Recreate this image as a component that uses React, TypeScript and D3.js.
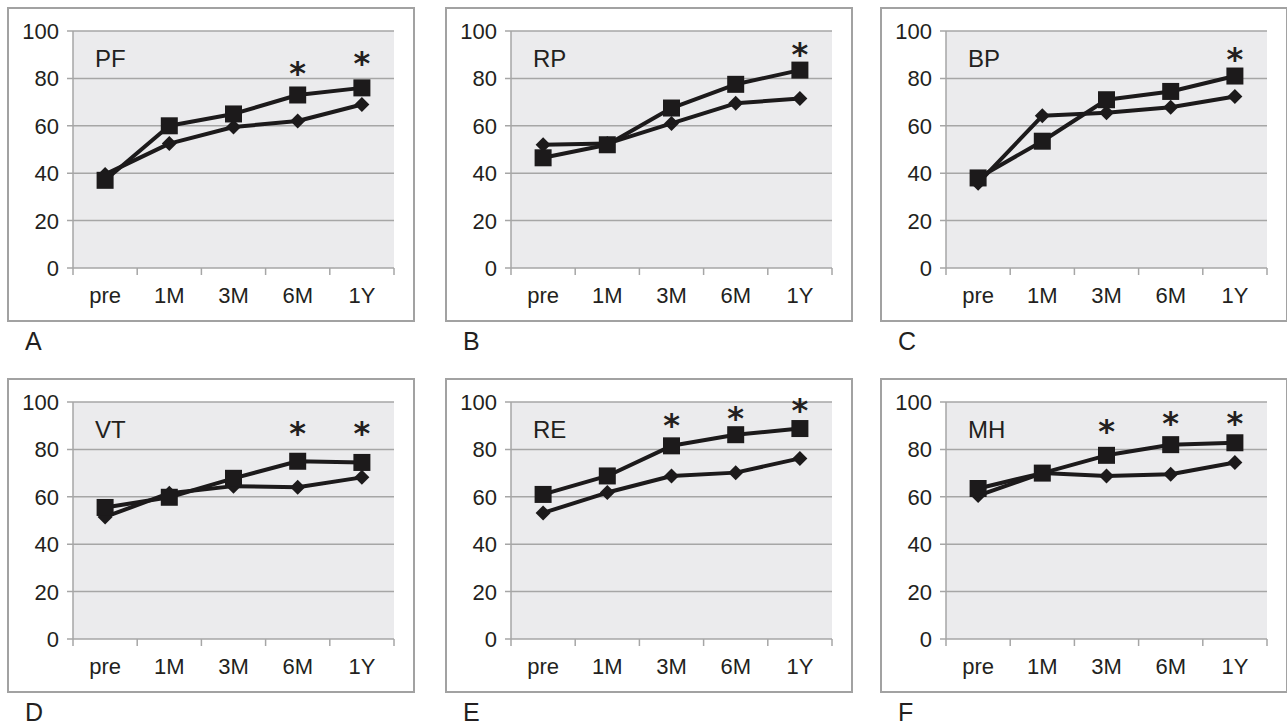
import React from "react";
import * as d3 from "d3";

const categories = ["pre", "1M", "3M", "6M", "1Y"];
const yTicks = [0, 20, 40, 60, 80, 100];
const panelNames = ["PF", "RP", "BP", "VT", "RE", "MH"];
const panelLetters = ["A", "B", "C", "D", "E", "F"];

// square-marker series
const squareSeries = [
  [37, 60, 65, 73, 76],
  [46.5, 52, 67.5, 77.5, 83.5],
  [38, 53.5, 71, 74.5, 81],
  [55.5, 59.8, 67.8, 75, 74.5],
  [61, 68.8, 81.5, 86.2, 88.8],
  [63.5, 70, 77.5, 82, 82.8],
];
// diamond-marker series
const diamondSeries = [
  [39.5, 52.5, 59.5, 62, 69],
  [52, 52.5, 61, 69.5, 71.5],
  [35.8, 64.2, 65.5, 67.8, 72.4],
  [51.5, 61.5, 64.5, 64, 68.2],
  [53.2, 61.8, 68.8, 70.2, 76.2],
  [60.5, 70, 68.8, 69.5, 74.5],
];
// significance markers (category and level in data units)
const starCategories = [
  ["6M", "1Y"],
  ["1Y"],
  ["1Y"],
  ["6M", "1Y"],
  ["3M", "6M", "1Y"],
  ["3M", "6M", "1Y"],
];
const starLevels = [
  [84, 88],
  [91.7],
  [89.8],
  [88.5, 88.5],
  [92, 95, 98],
  [89.3, 92.5, 92.5],
];

const W = 1287;
const H = 725;
const frameLefts = [8, 446, 881];
const frameTops = [8, 379];
const frameW = 406;
const frameH = 313;
const plotOffX = 65;
const plotOffY = 23;
const plotW = 321;
const plotH = 237;

const FONT = "'Liberation Sans', Arial, Helvetica, sans-serif";
const TEXT = "#231f20";
const LINE = "#1c1a1b";

function Panel({ idx }: { idx: number }) {
  const col = idx % 3;
  const row = Math.floor(idx / 3);
  const fx = frameLefts[col];
  const fy = frameTops[row];
  const px = fx + plotOffX;
  const py = fy + plotOffY;

  const x = d3.scaleBand<string>().domain(categories).range([px, px + plotW]);
  const y = d3.scaleLinear().domain([0, 100]).range([py + plotH, py]);
  const cx = (c: string) => (x(c) as number) + x.bandwidth() / 2;

  const line = d3
    .line<number>()
    .x((_, i) => cx(categories[i]))
    .y((v) => y(v));

  const sq = squareSeries[idx];
  const di = diamondSeries[idx];
  const boundaries = [...categories.map((c) => x(c) as number), px + plotW];

  return (
    <g>
      <rect x={fx} y={fy} width={frameW} height={frameH} fill="#fff" stroke="#a2a2a2" strokeWidth={2} />
      <rect x={px} y={py} width={plotW} height={plotH} fill="#ebebed" />
      {yTicks.map((t) => (
        <g key={t}>
          <line x1={px - 6} x2={px + plotW} y1={y(t)} y2={y(t)} stroke="#a6a6a6" strokeWidth={1.5} />
          <text
            x={px - 14}
            y={y(t)}
            dy="0.36em"
            textAnchor="end"
            fontFamily={FONT}
            fontSize={22}
            fill={TEXT}
          >
            {t}
          </text>
        </g>
      ))}
      <line x1={px} x2={px} y1={py} y2={py + plotH} stroke="#a6a6a6" strokeWidth={1.5} />
      {boundaries.map((b, i) => (
        <line key={i} x1={b} x2={b} y1={py + plotH} y2={py + plotH + 7} stroke="#a6a6a6" strokeWidth={1.5} />
      ))}
      {categories.map((c) => (
        <text
          key={c}
          x={cx(c)}
          y={py + plotH + 35}
          textAnchor="middle"
          fontFamily={FONT}
          fontSize={22}
          fill={TEXT}
        >
          {c}
        </text>
      ))}
      <text x={px + 22} y={py + 36} fontFamily={FONT} fontSize={24} fill={TEXT}>
        {panelNames[idx]}
      </text>
      <path d={line(di) || ""} fill="none" stroke={LINE} strokeWidth={4} strokeLinejoin="round" />
      {di.map((v, i) => {
        const X = cx(categories[i]);
        const Y = y(v);
        return (
          <path
            key={i}
            d={`M${X},${Y - 7.5}L${X + 7.5},${Y}L${X},${Y + 7.5}L${X - 7.5},${Y}Z`}
            fill={LINE}
          />
        );
      })}
      <path d={line(sq) || ""} fill="none" stroke={LINE} strokeWidth={4} strokeLinejoin="round" />
      {sq.map((v, i) => (
        <rect key={i} x={cx(categories[i]) - 8.5} y={y(v) - 8.5} width={17} height={17} fill={LINE} />
      ))}
      {starCategories[idx].map((c, i) => (
        <text
          key={c}
          x={cx(c)}
          y={y(starLevels[idx][i])}
          dy="0.46em"
          textAnchor="middle"
          fontFamily="'DejaVu Sans', sans-serif"
          fontSize={32}
          fontWeight="bold"
          fill={TEXT}
        >
          *
        </text>
      ))}
      <text x={fx + 17} y={fy + frameH + 29} fontFamily={FONT} fontSize={25} fill={TEXT}>
        {panelLetters[idx]}
      </text>
    </g>
  );
}

export default function App() {
  return (
    <svg
      width={W}
      height={H}
      viewBox={`0 0 ${W} ${H}`}
      style={{ position: "absolute", left: 0, top: 0, background: "#fff" }}
    >
      {panelNames.map((_, i) => (
        <Panel key={i} idx={i} />
      ))}
    </svg>
  );
}
